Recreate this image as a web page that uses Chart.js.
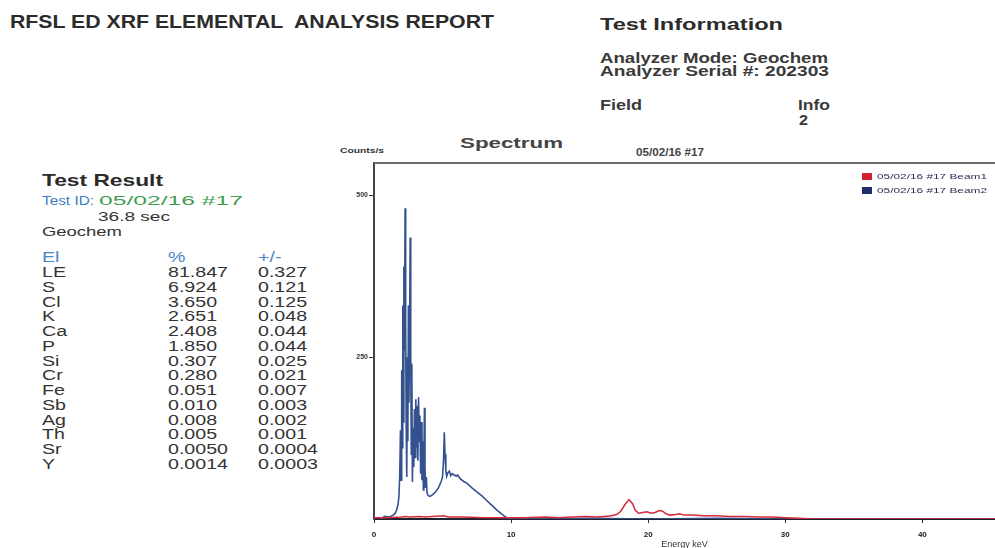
<!DOCTYPE html>
<html>
<head>
<meta charset="utf-8">
<script src="https://cdn.jsdelivr.net/npm/chart.js@4.4.1/dist/chart.umd.min.js"></script>
<style>
  html,body{margin:0;padding:0;background:#fff;}
  body{width:995px;height:548px;overflow:hidden;position:relative;font-family:"Liberation Sans",Arial,sans-serif;color:#2e2e2e;}
  .t{position:absolute;white-space:pre;line-height:1;transform-origin:left center;}
  .b{font-weight:bold;}
  #chartBox{position:absolute;left:330px;top:130px;width:665px;height:418px;}
  .lg{position:absolute;left:862px;font-size:8px;}
  .lg .box{position:absolute;left:0;width:10px;height:7px;}
  .lg .lab{position:absolute;left:15px;white-space:pre;line-height:1;transform-origin:left center;color:#2a2f55;}
</style>
</head>
<body>
<div class="t b" style="left:10px;top:12.5px;font-size:18px;color:#2b2b2b" data-w="484">RFSL ED XRF ELEMENTAL  ANALYSIS REPORT</div>
<div class="t b" style="left:600px;top:16.5px;font-size:16px;color:#2b2b2b" data-w="183">Test Information</div>
<div class="t b" style="left:600px;top:50.5px;font-size:14px;color:#3a3a3a" data-w="228">Analyzer Mode: Geochem</div>
<div class="t b" style="left:600px;top:64px;font-size:14px;color:#3a3a3a" data-w="229">Analyzer Serial #: 202303</div>
<div class="t b" style="left:600px;top:98px;font-size:14px;color:#3a3a3a" data-w="42">Field</div>
<div class="t b" style="left:798px;top:98px;font-size:14px;color:#3a3a3a" data-w="32">Info</div>
<div class="t b" style="left:799px;top:113px;font-size:14px;color:#3a3a3a" data-w="9">2</div>

<div class="t b" style="left:42px;top:172px;font-size:17px;color:#2b2b2b" data-w="121">Test Result</div>
<div class="t" style="left:42px;top:194.5px;font-size:12px;color:#3d7cc4" data-w="52">Test ID:</div>
<div class="t" style="left:99px;top:194.5px;font-size:12px;color:#3f9d50" data-w="144">05/02/16 #17</div>
<div class="t" style="left:98px;top:209.5px;font-size:13px;color:#333" data-w="72">36.8 sec</div>
<div class="t" style="left:42px;top:224.5px;font-size:13px;color:#333" data-w="80">Geochem</div>
<div id="table"></div>

<div class="t b" style="left:340px;top:146.5px;font-size:8px;color:#333" data-w="44">Counts/s</div>
<div class="t b" style="left:460px;top:136px;font-size:14px;color:#444" data-w="103">Spectrum</div>
<div class="t b" style="left:636px;top:148px;font-size:10px;color:#444" data-w="68">05/02/16 #17</div>

<div id="chartBox"><canvas id="c" width="665" height="418"></canvas></div>
<div id="legend"></div>

<script>
// ---- report table ----
const elements = ['LE','S','Cl','K','Ca','P','Si','Cr','Fe','Sb','Ag','Th','Sr','Y'];
const percents = ['81.847','6.924','3.650','2.651','2.408','1.850','0.307','0.280','0.051','0.010','0.008','0.005','0.0050','0.0014'];
const errors   = ['0.327','0.121','0.125','0.048','0.044','0.044','0.025','0.021','0.007','0.003','0.002','0.001','0.0004','0.0003'];
const tableHeaders = ['El','%','+/-'];

// ---- spectrum data ----
const beamLabels = ['05/02/16 #17 Beam1','05/02/16 #17 Beam2'];
const energyBeam1 = [0,1,2,2.3,2.6,3.3,3.7,5.1,5.4,6.5,8,10,11,12.5,13.5,14.5,15.5,16.2,16.8,17.3,17.7,18.0,18.3,18.6,18.85,19.05,19.3,19.6,19.9,20.2,20.5,20.8,21.05,21.3,21.6,22.0,22.3,22.6,23.2,24,25,26,27,28,29,30,31,32,36,45.3];
const countsBeam1 = [2,2,3,4,3,4,3,5,3,3,2,2,2,3,2,3,4,3,4,5,7,12,22,30,24,14,9,10,11,9,10,13,12,8,6,7,8,6,6,5,5,4,4,3,3,2,1,0,0,0];
const energyBeam2 = [0.5,0.6,0.8,1.0,1.2,1.4,1.55,1.65,1.75,1.82,1.88,1.93,1.97,2.02,2.06,2.1,2.14,2.18,2.22,2.27,2.31,2.35,2.39,2.43,2.47,2.51,2.55,2.6,2.64,2.68,2.72,2.76,2.8,2.85,2.9,2.95,3.0,3.05,3.1,3.15,3.2,3.25,3.3,3.35,3.4,3.45,3.5,3.55,3.6,3.64,3.68,3.72,3.76,3.82,3.87,3.95,4.1,4.3,4.5,4.7,4.9,5.0,5.07,5.13,5.18,5.24,5.3,5.4,5.5,5.6,5.7,5.85,6.0,6.1,6.3,6.55,6.8,7.1,7.5,7.85,8.2,8.6,8.95,9.3,9.6,9.8,10.2,11,13,16,20,25,30,35,40,45.3];
const countsBeam2 = [0,2,4,3,4,6,9,14,22,35,70,137,60,230,110,330,150,390,260,480,300,140,65,250,120,330,180,300,435,260,100,240,57,140,80,170,95,185,110,175,90,188,120,160,70,150,60,120,45,100,172,80,48,65,40,36,35,38,42,48,58,65,90,134,100,75,66,72,74,67,70,68,66,68,62,58,55,49,42,36,29,21,14,8,3,1,0,1,0,1,0,1,0,0,0,0];
const xTickValues = [0,10,20,30,40];
const yTickValues = [250,500];
const X_MAX = 45.3;
const Y_MAX = 550;

// build table
const tbl = document.getElementById('table');
const colX = [42,168,258];
function addCell(txt, x, cy, color){
  const d = document.createElement('div');
  d.className = 't';
  d.textContent = txt;
  d.style.left = x + 'px';
  d.style.top = (cy - 7) + 'px';
  d.style.fontSize = '14px';
  d.style.color = color;
  d.style.transform = 'scaleX(1.4)';
  tbl.appendChild(d);
}
tableHeaders.forEach((h,i)=>addCell(h, colX[i], 257, '#4a86c8'));
elements.forEach((el,i)=>{
  const cy = 272 + i*14.75;
  addCell(el, colX[0], cy, '#333');
  addCell(percents[i], colX[1], cy, '#333');
  addCell(errors[i], colX[2], cy, '#333');
});

// scale text widths
document.querySelectorAll('[data-w]').forEach(el=>{
  const w = el.getBoundingClientRect().width;
  el.style.transform = 'scaleX(' + (parseFloat(el.dataset.w)/w) + ')';
});

const toPts = (xs, ys) => xs.map((x,i)=>({x:x, y:ys[i]}));

const framePlugin = {
  id:'frame',
  afterDraw(chart){
    const {ctx, chartArea:a} = chart;
    ctx.save();
    ctx.strokeStyle = '#6b6b6b';
    ctx.lineWidth = 2;
    ctx.beginPath();
    ctx.moveTo(a.left, a.top);
    ctx.lineTo(a.right, a.top);
    ctx.stroke();
    ctx.restore();
  }
};

const FONT = '"Liberation Sans", Arial, sans-serif';
const chart = new Chart(document.getElementById('c'), {
  type:'line',
  data:{
    datasets:[
      {label:beamLabels[0], data:toPts(energyBeam1,countsBeam1), borderColor:'#d42a3c', backgroundColor:'#cc2233', borderWidth:1.5, pointRadius:0, tension:0, fill:false},
      {label:beamLabels[1], data:toPts(energyBeam2,countsBeam2), borderColor:'#34518f', backgroundColor:'#1f2d6b', borderWidth:1.6, pointRadius:0, tension:0, fill:false}
    ]
  },
  options:{
    responsive:false,
    animation:false,
    devicePixelRatio:1,
    layout:{padding:{top:33,left:0,right:0,bottom:0}},
    plugins:{legend:{display:false}, tooltip:{enabled:false}, title:{display:false}},
    scales:{
      x:{
        type:'linear', min:0, max:X_MAX,
        afterFit(s){ s.height = 29; },
        afterBuildTicks(s){ s.ticks = xTickValues.map(v=>({value:v})); },
        ticks:{padding:7, autoSkip:false, maxRotation:0, color:'#222', font:{size:8, weight:'bold', family:FONT}},
        grid:{display:true, drawOnChartArea:false, drawTicks:true, tickLength:4, color:'#333'},
        border:{display:true, color:'#1d2330', width:2},
        title:{display:true, text:'Energy keV', color:'#333', font:{size:9, lineHeight:1, family:FONT}, padding:{top:0,bottom:-1}}
      },
      y:{
        type:'linear', min:0, max:Y_MAX,
        afterFit(s){ s.width = 44; },
        afterBuildTicks(s){ s.ticks = yTickValues.map(v=>({value:v})); },
        ticks:{padding:1, autoSkip:false, color:'#333', font:{size:7, weight:'bold', family:FONT}},
        grid:{display:true, drawOnChartArea:false, drawTicks:true, tickLength:5, color:'#333'},
        border:{display:true, color:'#444', width:2}
      }
    }
  },
  plugins:[framePlugin]
});

// legend from datasets
const lg = document.getElementById('legend');
chart.data.datasets.forEach((ds,i)=>{
  const row = document.createElement('div');
  row.className = 'lg';
  row.style.top = (173 + i*14) + 'px';
  const box = document.createElement('div');
  box.className = 'box';
  box.style.background = ds.backgroundColor;
  const lab = document.createElement('div');
  lab.className = 'lab';
  lab.textContent = ds.label;
  lab.style.top = '-0.5px';
  row.appendChild(box); row.appendChild(lab);
  lg.appendChild(row);
  const w = lab.getBoundingClientRect().width;
  lab.style.transform = 'scaleX(' + (110/w) + ')';
});
</script>
</body>
</html>
